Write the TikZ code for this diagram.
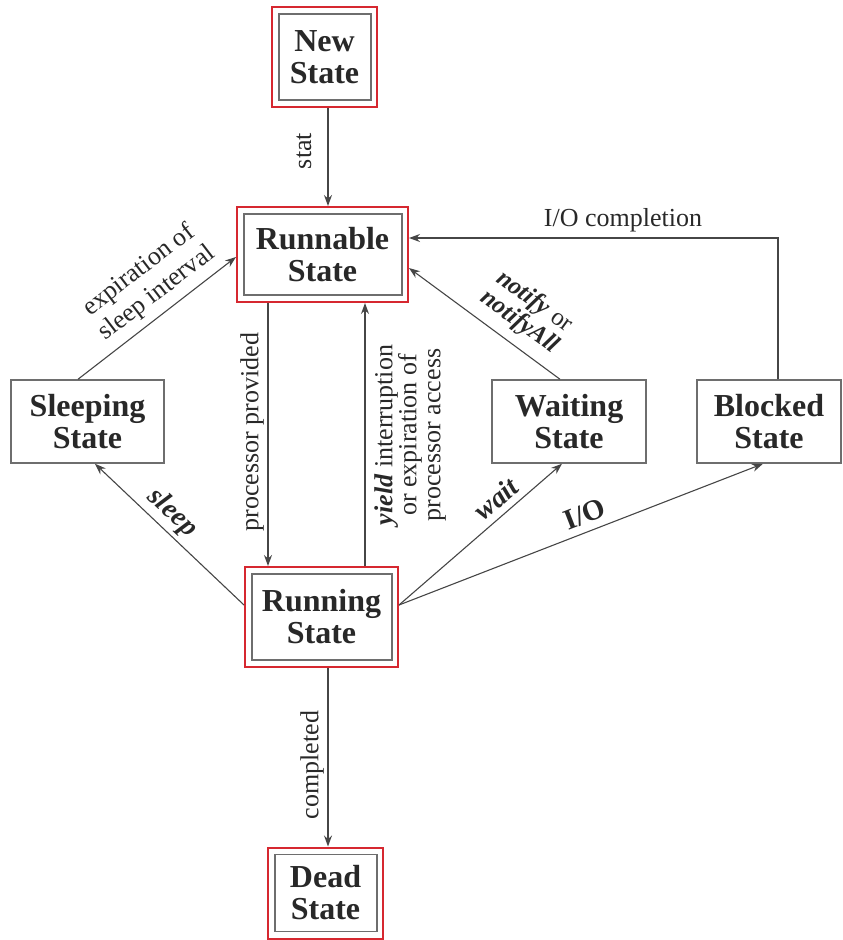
\documentclass[tikz,border=0pt]{standalone}
\usepackage{fontspec}
\setmainfont{Liberation Serif}
\usetikzlibrary{arrows.meta,calc}
\definecolor{redc}{RGB}{214,40,48}
\definecolor{boxgray}{RGB}{110,110,110}
\definecolor{linegray}{RGB}{70,70,70}
\definecolor{textc}{RGB}{40,40,40}
\begin{document}
\begin{tikzpicture}[x=1pt,y=-1pt,
  nodefont/.style={font=\fontsize{32}{32}\selectfont\bfseries, text=textc},
  lblfont/.style={font=\fontsize{26}{26}\selectfont, text=textc, inner sep=0pt, align=center},
  statebox/.style={nodefont, draw=boxgray, line width=1.5pt, fill=white, align=center, inner sep=0pt},
  redbox/.style={nodefont, draw=redc, line width=2pt, fill=white, align=center, inner sep=0pt},
  arr/.style={draw=linegray, line width=1.1pt, -{Stealth[length=11pt,width=8pt]}}
]
\useasboundingbox (0,0) rectangle (843,940);
% main states
\node[redbox, minimum width=105pt, minimum height=100pt] (new) at (324.5,57) {New\\State};
\node[redbox, minimum width=171pt, minimum height=95pt] (runnable) at (322.5,254.5) {Runnable\\State};
\node[redbox, minimum width=153pt, minimum height=100pt] (running) at (321.5,617) {Running\\State};
\node[redbox, minimum width=115pt, minimum height=91pt] (dead) at (325.5,893) {Dead\\State};
\foreach \n in {new,runnable,running,dead}{
  \draw[boxgray, line width=1.5pt] ([shift={(8pt,-8pt)}]\n.north west) rectangle ([shift={(-7pt,8pt)}]\n.south east);
}
\node[statebox, minimum width=153pt, minimum height=83pt] (sleeping) at (87.5,421.5) {Sleeping\\State};
\node[statebox, minimum width=154pt, minimum height=83pt] (waiting) at (569,421.5) {Waiting\\State};
\node[statebox, minimum width=144pt, minimum height=83pt] (blocked) at (769,421.5) {Blocked\\State};

% helper coordinates
\coordinate (xa) at (268,0);
\coordinate (xb) at (365,0);
\coordinate (xd) at (328,0);
\coordinate (bx) at (778,238);

% connectors
\draw[arr] (new.south -| xd) -- (runnable.north -| xd);
\draw[arr] (runnable.south -| xa) -- (running.north -| xa);
\draw[arr] (running.north -| xb) -- (runnable.south -| xb);
\draw[arr] (running.south -| xd) -- (dead.north -| xd);
\draw[arr] ([xshift=-9.5pt]sleeping.north) -- ([yshift=-2.5pt]runnable.west);
\draw[arr] ([yshift=12pt]running.west) -- ([xshift=7.5pt]sleeping.south);
\draw[arr] ([yshift=12pt]running.east) -- ([xshift=-7pt]waiting.south);
\draw[arr] ([yshift=12pt]running.east) -- ([xshift=-6pt]blocked.south);
\draw[arr] ([xshift=-9pt]waiting.north) -- ([yshift=-13.5pt]runnable.east);
\draw[arr] (blocked.north -| bx) -- (bx) -- (runnable.east |- bx);

% labels
\node[lblfont, rotate=90] (lstat) at (304,151) {stat};
\node[lblfont, rotate=90] (lproc) at (252,432) {processor provided};
\node[lblfont, rotate=90, font=\fontsize{26}{24}\selectfont] (lyield) at (410,435) {\textbf{\textit{yield}} interruption\\or expiration of\\processor access};
\node[lblfont, rotate=90] (lcomp) at (312,765) {completed};
\node[lblfont, rotate=37.5, font=\fontsize{26}{29}\selectfont] (lexp) at (148,282) {expiration of\\sleep interval};
\node[lblfont, rotate=-43, font=\fontsize{28}{28}\selectfont\bfseries\itshape] (lsleep) at (172,513) {sleep};
\node[lblfont, rotate=40.7, font=\fontsize{28}{28}\selectfont\bfseries\itshape] (lwait) at (496,499) {wait};
\node[lblfont, rotate=21.3, font=\fontsize{29}{29}\selectfont\bfseries] (lio) at (585,514) {I/O};
\node[lblfont, rotate=-36, font=\fontsize{25}{25}\selectfont] (lnotify) at (527,312) {\textbf{\textit{notify}} or\\\textbf{\textit{notifyAll}}};
\node[lblfont] (liocomp) at (623,220) {I/O completion};
\end{tikzpicture}
\end{document}
